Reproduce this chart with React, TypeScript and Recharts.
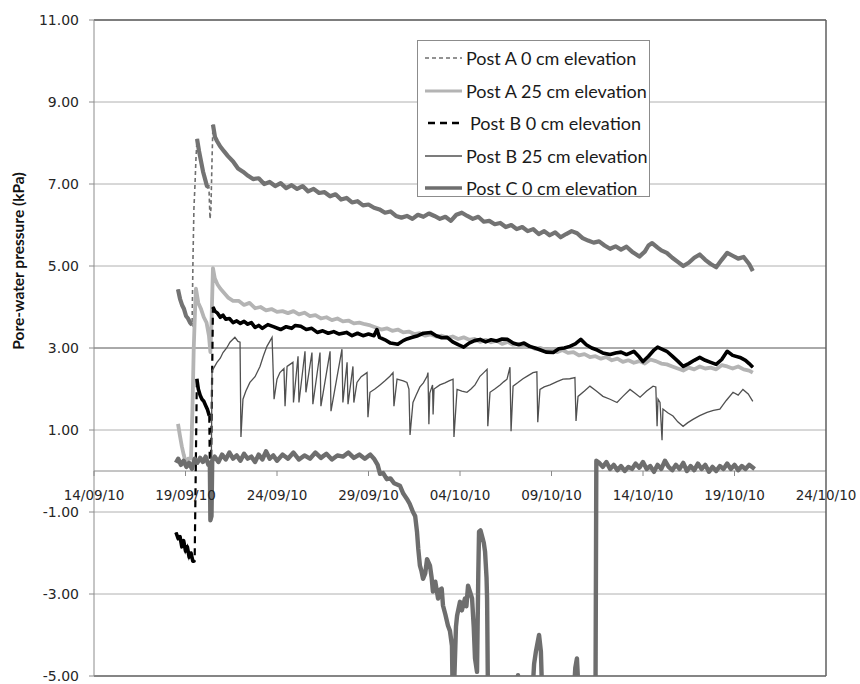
import React from 'react';
import { LineChart, Line, XAxis, YAxis, CartesianGrid, ReferenceLine, ReferenceDot } from 'recharts';

type Pt = [number, number];

// x = days since 14/09/10
const X_TICK_DAYS = [0, 5, 10, 15, 20, 25, 30, 35, 40];
const X_TICK_LABELS = ['14/09/10', '19/09/10', '24/09/10', '29/09/10', '04/10/10', '09/10/10', '14/10/10', '19/10/10', '24/10/10'];
const Y_TICKS = [-5, -3, -1, 1, 3, 5, 7, 9, 11];

const SERIES_NAMES = ['Post A 0 cm elevation', 'Post A 25 cm elevation', 'Post B 0 cm elevation', 'Post B 25 cm elevation', 'Post C 0 cm elevation'];

const postA0: Pt[] = [
  [4.59, 4.43], [4.7, 4.2], [4.81, 4.05], [4.92, 3.95], [5.03, 3.78], [5.14, 3.72], [5.25, 3.62], [5.36, 3.56],
  [5.41, 5.2], [5.46, 6.4], [5.52, 7.0], [5.57, 7.6], [5.63, 8.1],
  [5.74, 7.8], [5.85, 7.55], [5.96, 7.3], [6.07, 7.12], [6.17, 6.95], [6.28, 6.92],
  [6.34, 6.15], [6.39, 6.4], [6.45, 7.6], [6.5, 8.45],
  [6.61, 8.15], [6.72, 8.05], [6.89, 7.92], [7.1, 7.8], [7.32, 7.68], [7.6, 7.55], [7.87, 7.38], [8.14, 7.3],
  [8.42, 7.2], [8.69, 7.12], [9.0, 7.14], [9.3, 7.0], [9.6, 7.05], [9.9, 6.95], [10.2, 7.02], [10.5, 6.9],
  [10.8, 6.97], [11.1, 6.88], [11.4, 6.95], [11.7, 6.82], [12.0, 6.88], [12.3, 6.78], [12.6, 6.8], [12.9, 6.7],
  [13.2, 6.75], [13.5, 6.62], [13.8, 6.66], [14.1, 6.55], [14.4, 6.58], [14.7, 6.48], [15.0, 6.5], [15.3, 6.42],
  [15.6, 6.38], [15.9, 6.3], [16.2, 6.33], [16.5, 6.22], [16.8, 6.18], [17.1, 6.22], [17.4, 6.15], [17.7, 6.25],
  [18.0, 6.2], [18.3, 6.28], [18.6, 6.22], [18.9, 6.15], [19.2, 6.2], [19.5, 6.1], [19.8, 6.25], [20.1, 6.3],
  [20.4, 6.22], [20.7, 6.15], [21.0, 6.2], [21.3, 6.08], [21.6, 6.1], [21.9, 6.02], [22.2, 6.05], [22.5, 5.95],
  [22.8, 6.0], [23.1, 5.9], [23.4, 5.95], [23.7, 5.85], [24.0, 5.9], [24.3, 5.78], [24.6, 5.85], [24.9, 5.75],
  [25.2, 5.82], [25.5, 5.7], [25.8, 5.78], [26.1, 5.85], [26.4, 5.8], [26.7, 5.68], [27.0, 5.62], [27.3, 5.57],
  [27.6, 5.6], [27.9, 5.5], [28.2, 5.42], [28.5, 5.48], [28.8, 5.4], [29.1, 5.47], [29.4, 5.35], [29.8, 5.23],
  [30.1, 5.35], [30.3, 5.5], [30.5, 5.56], [30.8, 5.45], [31.0, 5.38], [31.3, 5.32], [31.6, 5.2], [31.9, 5.1],
  [32.2, 5.0], [32.5, 5.08], [32.8, 5.2], [33.1, 5.28], [33.4, 5.15], [33.7, 5.05], [34.0, 4.97], [34.3, 5.15],
  [34.6, 5.32], [34.9, 5.25], [35.2, 5.18], [35.5, 5.22], [35.8, 5.05], [36.0, 4.88],
];
const postA0Jumps: Pt[] = [[5.36, 5.63], [6.28, 6.5]];

const postA25: Pt[] = [
  [4.59, 1.15], [4.7, 0.85], [4.8, 0.6], [4.9, 0.4], [4.97, 0.28], [5.05, 0.22], [5.15, 0.3], [5.3, 0.3],
  [5.38, 1.5], [5.45, 3.0], [5.52, 3.9], [5.57, 4.45], [5.7, 4.1], [5.85, 3.95], [6.0, 3.75], [6.15, 3.62],
  [6.28, 3.3], [6.36, 2.9], [6.42, 3.6], [6.5, 4.95], [6.6, 4.7], [6.75, 4.55], [6.9, 4.45], [7.1, 4.35],
  [7.35, 4.22], [7.6, 4.15], [7.9, 4.15], [8.2, 4.05], [8.5, 4.1], [8.8, 3.97], [9.1, 4.0], [9.4, 3.92],
  [9.7, 3.95], [10.0, 3.88], [10.3, 3.9], [10.6, 3.85], [10.9, 3.9], [11.2, 3.82], [11.5, 3.86], [11.8, 3.78],
  [12.1, 3.8], [12.4, 3.72], [12.7, 3.75], [13.0, 3.68], [13.3, 3.72], [13.6, 3.65], [13.9, 3.67], [14.2, 3.6],
  [14.5, 3.62], [14.8, 3.58], [15.1, 3.55], [15.4, 3.5], [15.7, 3.45], [16.0, 3.48], [16.3, 3.42], [16.6, 3.45],
  [16.9, 3.38], [17.2, 3.4], [17.5, 3.34], [17.8, 3.36], [18.1, 3.3], [18.4, 3.33], [18.7, 3.28], [19.0, 3.3],
  [19.3, 3.25], [19.6, 3.28], [19.9, 3.22], [20.2, 3.26], [20.5, 3.2], [20.8, 3.22], [21.1, 3.15], [21.4, 3.2],
  [21.7, 3.14], [22.0, 3.18], [22.3, 3.1], [22.6, 3.15], [22.9, 3.08], [23.2, 3.1], [23.5, 3.02], [23.8, 3.05],
  [24.1, 2.98], [24.4, 3.0], [24.7, 2.95], [25.0, 2.97], [25.3, 2.9], [25.6, 2.95], [25.9, 2.88], [26.2, 2.9],
  [26.5, 2.82], [26.8, 2.85], [27.1, 2.78], [27.4, 2.8], [27.7, 2.74], [28.0, 2.78], [28.3, 2.7], [28.6, 2.74],
  [28.9, 2.66], [29.2, 2.7], [29.5, 2.64], [29.8, 2.68], [30.1, 2.62], [30.4, 2.72], [30.7, 2.68], [31.0, 2.62],
  [31.3, 2.6], [31.6, 2.55], [31.9, 2.5], [32.2, 2.45], [32.5, 2.52], [32.8, 2.48], [33.1, 2.55], [33.4, 2.5],
  [33.7, 2.52], [34.0, 2.48], [34.3, 2.58], [34.6, 2.55], [34.9, 2.5], [35.2, 2.55], [35.5, 2.48], [35.8, 2.45],
  [36.0, 2.4],
];

const postB0: Pt[] = [
  [4.48, -1.5], [4.6, -1.65], [4.7, -1.6], [4.8, -1.85], [4.9, -1.7], [5.0, -1.95], [5.1, -1.85], [5.2, -2.1],
  [5.3, -2.0], [5.4, -2.2], [5.5, -2.2], [5.56, 0.0], [5.62, 2.25], [5.7, 2.0], [5.8, 1.85], [5.9, 1.75],
  [6.0, 1.7], [6.1, 1.6], [6.2, 1.5], [6.3, 1.35], [6.36, -1.2], [6.43, 1.4], [6.5, 4.0],
  [6.6, 3.9], [6.75, 3.85], [6.9, 3.75], [7.05, 3.8], [7.2, 3.7], [7.4, 3.72], [7.6, 3.62], [7.8, 3.66],
  [8.0, 3.6], [8.2, 3.65], [8.4, 3.58], [8.6, 3.62], [8.8, 3.5], [9.0, 3.55], [9.2, 3.48], [9.5, 3.57],
  [9.8, 3.52], [10.2, 3.45], [10.5, 3.52], [10.8, 3.48], [11.0, 3.55], [11.3, 3.53], [11.6, 3.45], [11.9, 3.48],
  [12.2, 3.38], [12.5, 3.42], [12.8, 3.36], [13.1, 3.4], [13.4, 3.34], [13.8, 3.38], [14.1, 3.3], [14.4, 3.36],
  [14.7, 3.3], [15.0, 3.34], [15.3, 3.3], [15.46, 3.45], [15.6, 3.26], [15.9, 3.2], [16.2, 3.12], [16.6, 3.09],
  [16.9, 3.18], [17.1, 3.22], [17.4, 3.26], [17.7, 3.3], [18.0, 3.36], [18.4, 3.38], [18.7, 3.3], [19.0, 3.25],
  [19.3, 3.26], [19.6, 3.15], [19.9, 3.08], [20.2, 3.02], [20.5, 3.12], [20.8, 3.18], [21.1, 3.21], [21.4, 3.15],
  [21.7, 3.2], [22.0, 3.17], [22.3, 3.22], [22.6, 3.21], [22.9, 3.12], [23.2, 3.08], [23.5, 3.12], [23.8, 3.04],
  [24.1, 3.0], [24.4, 2.95], [24.7, 2.9], [25.1, 2.89], [25.4, 2.98], [25.7, 3.0], [26.0, 3.04], [26.3, 3.1],
  [26.6, 3.21], [26.9, 3.08], [27.2, 3.0], [27.5, 2.95], [27.8, 2.88], [28.2, 2.84], [28.5, 2.88], [28.8, 2.9],
  [29.1, 2.84], [29.5, 2.92], [29.8, 2.78], [30.0, 2.67], [30.3, 2.8], [30.6, 2.95], [30.8, 3.02], [31.0, 2.98],
  [31.3, 2.92], [31.6, 2.8], [31.9, 2.68], [32.2, 2.55], [32.5, 2.62], [32.8, 2.7], [33.1, 2.77], [33.4, 2.7],
  [33.7, 2.65], [34.0, 2.6], [34.3, 2.72], [34.6, 2.92], [34.9, 2.82], [35.3, 2.77], [35.6, 2.7], [35.8, 2.62],
  [36.0, 2.53],
];
const postB0Jumps: Pt[] = [[5.5, 5.62], [6.3, 6.5]];

const postB25: Pt[] = [
  [6.39, -1.2], [6.45, 2.45], [6.5, 2.48], [6.72, 2.65], [6.9, 2.75], [7.05, 2.89], [7.25, 3.0], [7.43, 3.14],
  [7.7, 3.26], [7.87, 3.16], [7.98, 3.14], [8.03, 0.83], [8.14, 1.75], [8.3, 1.95], [8.52, 2.16], [8.8, 2.3],
  [9.07, 2.55], [9.25, 2.8], [9.45, 3.04], [9.73, 3.26], [9.84, 1.75], [10.0, 2.24], [10.16, 2.4], [10.38, 2.5],
  [10.44, 1.58], [10.55, 2.55], [10.87, 2.65], [10.9, 1.67], [11.15, 2.8], [11.2, 1.67], [11.53, 2.92],
  [11.58, 1.92], [11.91, 2.89], [11.96, 1.63], [12.35, 2.89], [12.4, 1.58], [12.9, 2.92], [12.95, 1.46],
  [13.55, 2.97], [13.6, 1.67], [13.83, 2.65], [13.88, 1.63], [14.15, 2.55], [14.2, 1.67], [14.37, 2.16],
  [14.6, 2.3], [14.92, 2.4], [14.97, 1.31], [15.08, 1.92], [15.35, 2.0], [15.63, 2.1], [15.9, 2.2],
  [16.17, 2.31], [16.34, 2.4], [16.39, 1.58], [16.56, 2.24], [16.9, 2.2], [17.1, 2.16], [17.21, 2.0],
  [17.27, 0.88], [17.43, 1.67], [17.6, 1.85], [17.81, 2.05], [18.0, 2.15], [18.2, 2.31], [18.25, 2.4],
  [18.3, 1.14], [18.35, 1.9], [18.5, 2.1], [18.53, 1.38], [18.58, 2.0], [18.9, 2.1], [19.18, 2.15],
  [19.4, 2.2], [19.62, 2.24], [19.67, 0.83], [19.84, 1.99], [20.1, 1.95], [20.38, 1.92], [20.6, 2.0],
  [20.82, 2.1], [21.09, 2.31], [21.3, 2.4], [21.48, 2.48], [21.52, 1.09], [21.64, 1.92], [21.9, 2.0],
  [22.19, 2.1], [22.4, 2.18], [22.57, 2.24], [22.73, 2.53], [22.79, 0.97], [22.9, 2.07], [23.15, 2.15],
  [23.44, 2.25], [23.7, 2.32], [23.99, 2.4], [24.2, 2.42], [24.25, 1.19], [24.37, 1.99], [24.6, 2.05],
  [24.92, 2.1], [25.3, 2.18], [25.63, 2.24], [26.0, 2.25], [26.28, 2.28], [26.34, 1.22], [26.45, 1.82],
  [26.8, 1.95], [27.1, 2.07], [27.45, 1.95], [27.81, 1.82], [28.2, 1.75], [28.58, 1.67], [28.9, 1.82],
  [29.29, 1.99], [29.55, 1.9], [29.84, 1.8], [30.2, 1.95], [30.55, 2.07], [30.7, 2.05], [30.77, 1.09],
  [30.82, 1.75], [30.93, 1.67], [31.04, 0.75], [31.09, 1.51], [31.35, 1.42], [31.64, 1.34], [31.9, 1.2],
  [32.19, 1.09], [32.45, 1.18], [32.73, 1.26], [33.1, 1.35], [33.5, 1.43], [33.85, 1.48], [34.2, 1.51],
  [34.55, 1.72], [34.92, 1.92], [35.2, 1.85], [35.46, 1.99], [35.75, 1.88], [36.0, 1.7],
];

const postC0: Pt[] = [
  [4.48, 0.2], [4.6, 0.3], [4.75, 0.15], [4.9, 0.25], [5.05, 0.1], [5.2, 0.2], [5.35, 0.05], [5.5, 0.3],
  [5.65, 0.2], [5.8, 0.32], [5.95, 0.22], [6.1, 0.35], [6.25, 0.15], [6.33, 0.2], [6.36, -1.2], [6.42, -1.1],
  [6.46, 0.25], [6.6, 0.35], [6.8, 0.22], [7.0, 0.4], [7.2, 0.28], [7.4, 0.45], [7.6, 0.3], [7.8, 0.38],
  [8.0, 0.25], [8.2, 0.42], [8.4, 0.3], [8.6, 0.35], [8.8, 0.22], [9.0, 0.4], [9.2, 0.28], [9.4, 0.48],
  [9.6, 0.3], [9.8, 0.38], [10.0, 0.25], [10.3, 0.4], [10.6, 0.3], [10.9, 0.45], [11.2, 0.28], [11.5, 0.38],
  [11.8, 0.3], [12.1, 0.45], [12.4, 0.32], [12.7, 0.42], [13.0, 0.28], [13.3, 0.38], [13.6, 0.35], [13.9, 0.45],
  [14.2, 0.32], [14.5, 0.4], [14.8, 0.3], [15.1, 0.4], [15.3, 0.3], [15.5, 0.15], [15.63, -0.07], [15.8, -0.05],
  [16.0, -0.2], [16.2, -0.18], [16.4, -0.3], [16.72, -0.36], [16.9, -0.55], [17.1, -0.68], [17.25, -0.8],
  [17.43, -1.0], [17.55, -1.1], [17.65, -1.48], [17.72, -1.9], [17.81, -2.31], [17.9, -2.45], [17.98, -2.63],
  [18.1, -2.5], [18.2, -2.15], [18.36, -2.31], [18.45, -2.6], [18.52, -2.94], [18.65, -2.7], [18.8, -3.11],
  [18.9, -2.9], [19.0, -2.87], [19.07, -3.28], [19.2, -3.5], [19.34, -3.77], [19.45, -3.9], [19.56, -4.26],
  [19.6, -5.5], [19.66, -5.5], [19.78, -3.8], [19.84, -3.53], [20.0, -3.19], [20.1, -3.4], [20.27, -3.11],
  [20.35, -3.3], [20.44, -2.8], [20.55, -2.95], [20.66, -3.11], [20.75, -3.8], [20.82, -4.57], [20.93, -4.9],
  [21.0, -2.5], [21.04, -1.48], [21.12, -1.45], [21.2, -1.58], [21.3, -1.75], [21.37, -1.97], [21.45, -2.6],
  [21.48, -3.11], [21.53, -5.6], [22.0, -6], [22.8, -6], [23.1, -5.3], [23.17, -4.98], [23.22, -5.3],
  [23.6, -6], [23.95, -5.5], [24.05, -4.7], [24.15, -4.4], [24.32, -4.0], [24.42, -4.4], [24.48, -5.3],
  [25.0, -6], [26.2, -5.6], [26.3, -4.8], [26.39, -4.57], [26.47, -5.3], [26.8, -6], [27.4, -6],
  [27.45, 0.25], [27.6, 0.2], [27.8, 0.1], [28.0, 0.22], [28.2, 0.05], [28.4, 0.15], [28.6, 0.02], [28.8, 0.12],
  [29.0, 0.0], [29.2, 0.1], [29.4, 0.05], [29.6, 0.18], [29.8, 0.08], [30.0, 0.22], [30.2, 0.05], [30.4, 0.12],
  [30.6, -0.02], [30.8, 0.15], [31.0, 0.05], [31.2, 0.25], [31.4, 0.1], [31.6, 0.02], [31.8, 0.15], [32.0, 0.05],
  [32.2, 0.2], [32.4, 0.0], [32.6, 0.12], [32.8, 0.02], [33.0, 0.18], [33.2, 0.05], [33.4, 0.15], [33.6, -0.02],
  [33.8, 0.1], [34.0, 0.0], [34.2, 0.12], [34.4, 0.05], [34.6, 0.18], [34.8, 0.05], [35.0, 0.15], [35.2, 0.02],
  [35.4, 0.12], [35.6, 0.05], [35.8, 0.15], [36.1, 0.05],
];

// ---------- helpers ----------
const toRows = (pts: Pt[]) => pts.map(([d, v]) => ({ d, v }));
const inJump = (d: number, wins: Pt[]) => wins.some(([a, b]) => d > a && d < b);
const solidRows = (pts: Pt[], wins: Pt[]) => pts.map(([d, v]) => ({ d, v: inJump(d, wins) ? null : v }));

const FONT_TICK = '"DejaVu Sans", Verdana, sans-serif';
const FONT_TEXT = 'Lato, "Open Sans", sans-serif';

const STYLES = [
  { color: '#6f6f6f', w: 1.6, dash: '4 3', legendW: 1.6 },
  { color: '#b4b4b4', w: 3.8, dash: undefined as string | undefined, legendW: 3 },
  { color: '#000000', w: 2.2, dash: '7 5', legendW: 2.5 },
  { color: '#505050', w: 1.3, dash: undefined as string | undefined, legendW: 1.4 },
  { color: '#6e6e6e', w: 4.4, dash: undefined as string | undefined, legendW: 3.5 },
];

const makeXTick = (label: string) => (props: any) => {
  const { cx, cy } = props;
  return (
    <g>
      <line x1={cx} y1={cy} x2={cx} y2={cy + 5} stroke="#8a8a8a" strokeWidth={1} />
      <text x={cx} y={cy + 29} textAnchor="middle" fontFamily={FONT_TICK} fontSize={13.5} fill="#262626">
        {label}
      </text>
    </g>
  );
};

export default function App() {
  return (
    <div style={{ position: 'absolute', left: 0, top: 0, width: 860, height: 684, background: '#fff', overflow: 'hidden' }}>
      <LineChart width={860} height={684} margin={{ top: 20, right: 34, bottom: 8, left: 0 }}>
        <CartesianGrid horizontal vertical={false} stroke="#b0b0b0" strokeWidth={1} />
        <XAxis type="number" dataKey="d" domain={[0, 40]} ticks={X_TICK_DAYS} hide allowDataOverflow />
        <YAxis
          type="number"
          domain={[-5, 11]}
          ticks={Y_TICKS}
          allowDataOverflow
          width={94}
          tickSize={5}
          tickMargin={10}
          tickFormatter={(v: number) => v.toFixed(2)}
          axisLine={{ stroke: '#8c8c8c' }}
          tickLine={{ stroke: '#8c8c8c' }}
          tick={{ fill: '#262626', fontSize: 14, fontFamily: FONT_TICK }}
          interval={0}
        />
        <ReferenceLine y={3} stroke="#7c7c7c" strokeWidth={1} />
        <ReferenceLine y={0} stroke="#8a8a8a" strokeWidth={1} />
        <ReferenceLine y={11} stroke="#5f5f5f" strokeWidth={1.5} />
        <ReferenceLine x={40} stroke="#5f5f5f" strokeWidth={1.5} />
        <ReferenceLine y={-5} stroke="#6a6a6a" strokeWidth={1.5} />

        {/* Post A 0 cm */}
        <Line data={toRows(postA0)} dataKey="v" name={SERIES_NAMES[0]} stroke={STYLES[0].color} strokeWidth={STYLES[0].w}
          strokeDasharray={STYLES[0].dash} dot={false} activeDot={false} isAnimationActive={false} legendType="none" />
        <Line data={solidRows(postA0, postA0Jumps)} dataKey="v" name={SERIES_NAMES[0] + ' band'} stroke="#737373" strokeWidth={4.2}
          dot={false} activeDot={false} isAnimationActive={false} connectNulls={false} legendType="none" strokeLinejoin="round" />

        {/* Post A 25 cm */}
        <Line data={toRows(postA25)} dataKey="v" name={SERIES_NAMES[1]} stroke={STYLES[1].color} strokeWidth={STYLES[1].w}
          dot={false} activeDot={false} isAnimationActive={false} strokeLinejoin="round" />

        {/* Post B 0 cm */}
        <Line data={toRows(postB0)} dataKey="v" name={SERIES_NAMES[2]} stroke={STYLES[2].color} strokeWidth={STYLES[2].w}
          strokeDasharray={STYLES[2].dash} dot={false} activeDot={false} isAnimationActive={false} />
        <Line data={solidRows(postB0, postB0Jumps)} dataKey="v" name={SERIES_NAMES[2] + ' band'} stroke="#000000" strokeWidth={3.6}
          dot={false} activeDot={false} isAnimationActive={false} connectNulls={false} legendType="none" strokeLinejoin="round" />

        {/* Post B 25 cm */}
        <Line data={toRows(postB25)} dataKey="v" name={SERIES_NAMES[3]} stroke={STYLES[3].color} strokeWidth={STYLES[3].w}
          dot={false} activeDot={false} isAnimationActive={false} />

        {/* Post C 0 cm */}
        <Line data={toRows(postC0)} dataKey="v" name={SERIES_NAMES[4]} stroke={STYLES[4].color} strokeWidth={STYLES[4].w}
          dot={false} activeDot={false} isAnimationActive={false} strokeLinejoin="round" />

        {X_TICK_DAYS.map((d, i) => (
          <ReferenceDot key={d} x={d} y={0} r={0} ifOverflow="visible" shape={makeXTick(X_TICK_LABELS[i])} />
        ))}
      </LineChart>

      {/* y-axis title */}
      <div
        style={{
          position: 'absolute', left: 18, top: 261, transform: 'translate(-50%, -50%) rotate(-90deg)',
          whiteSpace: 'nowrap', fontFamily: FONT_TEXT, fontWeight: 700, fontSize: 15.5, color: '#111',
        }}
      >
        Pore-water pressure (kPa)
      </div>

      {/* legend */}
      <div
        style={{
          position: 'absolute', left: 417, top: 40, width: 233, height: 157, border: '1px solid #8c8c8c',
          background: '#fff', boxSizing: 'border-box', paddingTop: 1,
        }}
      >
        {SERIES_NAMES.map((name, i) => (
          <div key={name} style={{ height: 32.5, display: 'flex', alignItems: 'center' }}>
            <svg width={48} height={10} style={{ flex: '0 0 48px' }}>
              <line x1={i === 2 ? 10 : 7} y1={5} x2={44} y2={5} stroke={STYLES[i].color}
                strokeWidth={STYLES[i].legendW} strokeDasharray={i === 0 ? '4 3' : STYLES[i].dash} />
            </svg>
            <span style={{ fontFamily: FONT_TEXT, fontSize: 18, color: '#1a1a1a', whiteSpace: 'nowrap', marginLeft: i === 2 ? 4 : 0 }}>
              {name}
            </span>
          </div>
        ))}
      </div>
    </div>
  );
}
